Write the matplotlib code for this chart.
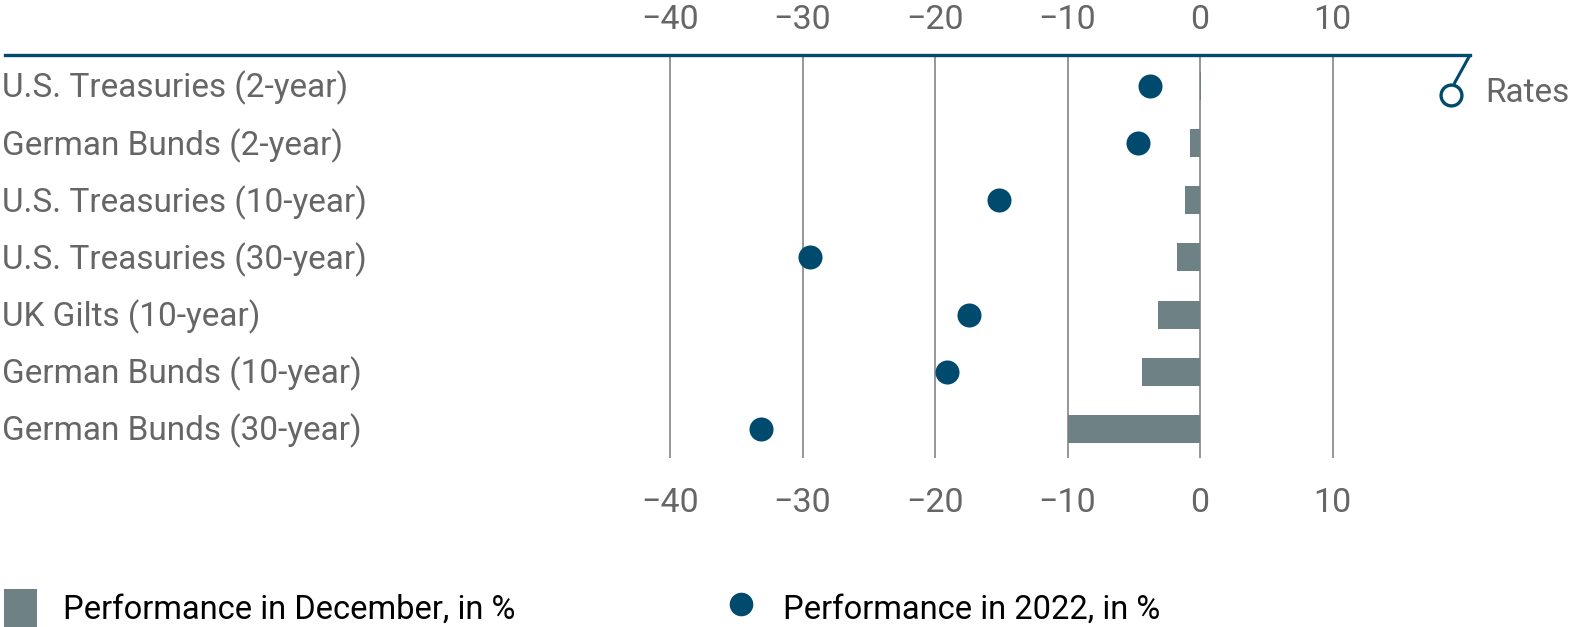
import matplotlib
matplotlib.use("Agg")
import matplotlib.pyplot as plt
from matplotlib.patches import Patch
from matplotlib.lines import Line2D
import matplotlib.transforms as mtransforms

categories = ["U.S. Treasuries (2-year)", "German Bunds (2-year)", "U.S. Treasuries (10-year)",
              "U.S. Treasuries (30-year)", "UK Gilts (10-year)", "German Bunds (10-year)",
              "German Bunds (30-year)"]
perf_december = [0.1, -0.75, -1.1, -1.7, -3.2, -4.4, -10.0]
perf_2022 = [-3.8, -4.7, -15.2, -29.4, -17.4, -19.1, -33.1]
xticks = [-40, -30, -20, -10, 0, 10]
xtick_labels = ["\u221240", "\u221230", "\u221220", "\u221210", "0", "10"]
group_label = "Rates"
legend_labels = ["Performance in December, in %", "Performance in 2022, in %"]

BAR = "#6e8286"
DOT = "#004a6e"
LINE = "#004a6e"
GRID = "#7a7a7a"
TXT = "#666666"

W, H = 1574, 627
plt.rcParams['font.family'] = ['Roboto', 'DejaVu Sans']
fig = plt.figure(figsize=(W / 100, H / 100), dpi=100)

left_px, right_px, top_px, bot_px = 5, 1470, 55, 458
ax = fig.add_axes([left_px / W, 1 - bot_px / H, (right_px - left_px) / W, (bot_px - top_px) / H])
zero_px, ppu = 1200, 13.25
ax.set_xlim((left_px - zero_px) / ppu, (right_px - zero_px) / ppu)
ax.set_ylim(6.51, -0.54)

ypos = list(range(len(categories)))
ax.barh(ypos, perf_december, height=0.49, color=BAR, zorder=2)
ax.scatter(perf_2022, ypos, s=300, color=DOT, zorder=3, linewidths=0)

ax.set_xticks(xticks)
ax.set_xticklabels(xtick_labels)
ax.tick_params(axis='x', top=False, bottom=False, labeltop=False, labelbottom=True,
               length=0, pad=21, labelsize=24.5, labelcolor=TXT)
ax.set_yticks([])
ax.grid(axis='x', color=GRID, linewidth=1.1, zorder=1)
for s in ['left', 'right', 'bottom']:
    ax.spines[s].set_visible(False)
ax.spines['top'].set_color(LINE)
ax.spines['top'].set_linewidth(2.4)

sec = ax.secondary_xaxis('top')
sec.set_xticks(xticks)
sec.set_xticklabels(xtick_labels)
sec.tick_params(axis='x', length=0, pad=14, labelsize=24.5, labelcolor=TXT)
sec.spines['top'].set_visible(False)

trans = mtransforms.blended_transform_factory(ax.transAxes, ax.transData)
for y, c in zip(ypos, categories):
    ax.text(-3 / (right_px - left_px), y + 0.04, c, transform=trans, ha='left', va='center',
            fontsize=24, color=TXT)

# bracket marker for the group
fig.add_artist(Line2D([1470 / W, 1454 / W], [1 - 55 / H, 1 - 84 / H], color=LINE, lw=2.2,
                      solid_capstyle='butt'))
fig.add_artist(Line2D([1451 / W], [1 - 95 / H], marker='o', markersize=15, markerfacecolor='white',
                      markeredgecolor=LINE, markeredgewidth=2.4, linestyle='none'))
fig.text(1485 / W, 1 - 93 / H, group_label, ha='left', va='center', fontsize=24, color=TXT)

handles = [Patch(facecolor=BAR, edgecolor='none'),
           Line2D([], [], marker='o', linestyle='none', markersize=17, markerfacecolor=DOT,
                  markeredgewidth=0)]
fig.legend(handles, legend_labels, loc='lower left', bbox_to_anchor=(-0.016, -0.047), ncol=2,
           frameon=False, handlelength=1.0, handleheight=1.4, handletextpad=0.8,
           columnspacing=6.4,
           prop={'family': ['Roboto', 'DejaVu Sans'], 'size': 23.5})

fig.savefig("out.png", dpi=100)
